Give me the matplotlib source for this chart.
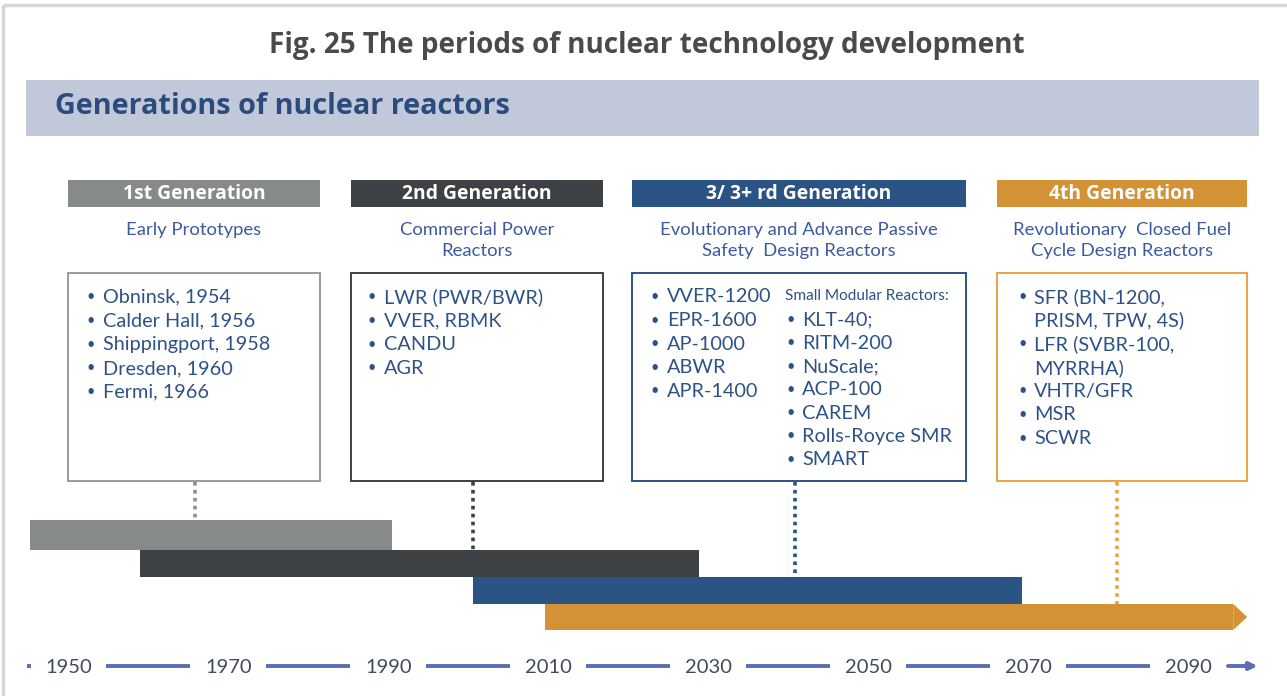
import matplotlib
matplotlib.use("Agg")
import matplotlib.pyplot as plt
from matplotlib.patches import Rectangle, Polygon

# ---------------- data ----------------
generations = ["1st Generation", "2nd Generation", "3/ 3+ rd Generation", "4th Generation"]
subtitles = ["Early Prototypes", "Commercial Power\nReactors",
             "Evolutionary and Advance Passive\nSafety  Design Reactors",
             "Revolutionary  Closed Fuel\nCycle Design Reactors"]
period_start = [1945.5, 1959.25, 2000.9, 2009.9]
period_end = [1990.75, 2029.1, 2069.5, 2095.9]
timeline_years = [1950, 1970, 1990, 2010, 2030, 2050, 2070, 2090]
gen1_items = ["Obninsk, 1954", "Calder Hall, 1956", "Shippingport, 1958", "Dresden, 1960", "Fermi, 1966"]
gen2_items = ["LWR (PWR/BWR)", "VVER, RBMK", "CANDU", "AGR"]
gen3_items = ["VVER-1200", "EPR-1600", "AP-1000", "ABWR", "APR-1400"]
smr_items = ["KLT-40;", "RITM-200", "NuScale;", "ACP-100", "CAREM", "Rolls-Royce SMR", "SMART"]
gen4_items = ["SFR (BN-1200,", "PRISM, TPW, 4S)", "LFR (SVBR-100,", "MYRRHA)", "VHTR/GFR", "MSR", "SCWR"]
gen4_bullets = [True, False, True, False, True, True, True]

colors = ["#878a8b", "#3e4144", "#2b5384", "#d39236"]
box_edges = ["#9a9a9a", "#3e4144", "#2b5384", "#e8a53e"]
text_blue = "#2d5287"
sub_blue = "#3c5a9c"

W, H = 1287, 696
fig = plt.figure(figsize=(W / 100, H / 100), dpi=100)
fig.patch.set_facecolor("white")

# layout axes (pixel coordinates)
lay = fig.add_axes([0, 0, 1, 1])
lay.set_xlim(0, W)
lay.set_ylim(H, 0)
lay.axis("off")

# outer frame
lay.add_patch(Rectangle((3, 5), W + 20, H + 20, fill=False, ec="#d6d6d6", lw=2.5))

TF = "Open Sans"
BF = "Lato"

lay.text(647, 45, "Fig. 25 The periods of nuclear technology development", ha="center", va="center",
         fontsize=20.1, fontweight="bold", color="#4a4a4a", family=TF)

lay.add_patch(Rectangle((26, 80), 1233, 56, fc="#c1c8da", ec="none"))
lay.text(55, 106, "Generations of nuclear reactors", ha="left", va="center",
         fontsize=20.8, fontweight="bold", color="#2b4b7e", family=TF)

box_x = [(68, 320), (351, 603), (632, 966), (997, 1247)]
for i, (x0, x1) in enumerate(box_x):
    lay.add_patch(Rectangle((x0, 180), x1 - x0, 27, fc=colors[i], ec="none"))
    lay.text((x0 + x1) / 2, 194, generations[i], ha="center", va="center", fontsize=13.9,
             fontweight="bold", color="white", family=TF)
    lay.text((x0 + x1) / 2, 240.5 if "\n" in subtitles[i] else 230, subtitles[i], ha="center", va="center",
             fontsize=13.3, color=sub_blue, family=BF, linespacing=1.38)
    lay.add_patch(Rectangle((x0, 273), x1 - x0, 208, fc="white", ec=box_edges[i], lw=1.4))

item_fs = 14.3
def bullets(items, xb, xt, y0, dy, flags=None):
    for k, s in enumerate(items):
        y = y0 + k * dy
        if flags is None or flags[k]:
            lay.text(xb, y, "•", ha="center", va="center", fontsize=10.5, color=text_blue, family=BF)
        lay.text(xt, y, s, ha="left", va="center", fontsize=item_fs, color=text_blue, family=BF)

bullets(gen1_items, 91, 103, 297, 23.8)
bullets(gen2_items, 372, 384, 297, 23.8)
bullets(gen3_items, 655, 667, 297, 23.6)
lay.text(785, 296, "Small Modular Reactors:", ha="left", va="center", fontsize=11.1,
         color=text_blue, family=BF)
bullets(smr_items, 791, 802, 320, 23.3)
bullets(gen4_items, 1023, 1034, 297, 23.6, gen4_bullets)

# ---------------- data axes: timeline in years ----------------
px_per_year = 8.0
x0_year = 1950 - 66 / px_per_year
ax = fig.add_axes([0, 0, 1, 1], facecolor="none")
ax.set_xlim(x0_year, x0_year + W / px_per_year)
ax.set_ylim(H, 0)
ax.axis("off")

row_top = [520, 550, 577, 604]
row_bot = [550, 577, 604, 630]
connector_x = [195, 473, 795, 1117]
for i in range(4):
    h = row_bot[i] - row_top[i]
    ax.barh((row_top[i] + row_bot[i]) / 2, period_end[i] - period_start[i], left=period_start[i],
            height=h, color=colors[i], edgecolor="none", zorder=3 - 0.1 * i)
    # dotted connectors from box to bar
    lay.plot([connector_x[i], connector_x[i]], [482, row_top[i]], ls=(0, (1, 1.2)), lw=2.6,
             color=box_edges[i] if i != 0 else "#8e8e8e", zorder=1)
# arrow tip of the last period
tip = 14 / px_per_year
e = period_end[3]
ax.add_patch(Polygon([(e, row_top[3]), (e + tip, (row_top[3] + row_bot[3]) / 2), (e, row_bot[3])],
                     closed=True, fc=colors[3], ec="none", zorder=3))

# timeline axis
line_c = "#5a6db5"
ty = 666
for k, yr in enumerate(timeline_years):
    ax.text(yr + 0.3, ty + 1.5, str(yr), ha="center", va="center", fontsize=14.5, color="#414a5c", family=BF)
    if k < len(timeline_years) - 1:
        ax.plot([yr + 5, yr + 15.5], [ty, ty], color=line_c, lw=2.8, solid_capstyle="butt")
ax.plot([timeline_years[0] - 4.9, timeline_years[0] - 4.4], [ty, ty], color=line_c, lw=2.8,
        solid_capstyle="butt")
last = timeline_years[-1]
ax.annotate("", xy=(last + 9.3, ty), xytext=(last + 4.9, ty),
            arrowprops=dict(arrowstyle="-|>,head_length=0.45,head_width=0.22", color=line_c, lw=2.8))

fig.savefig("out.png", dpi=100, facecolor="white")
